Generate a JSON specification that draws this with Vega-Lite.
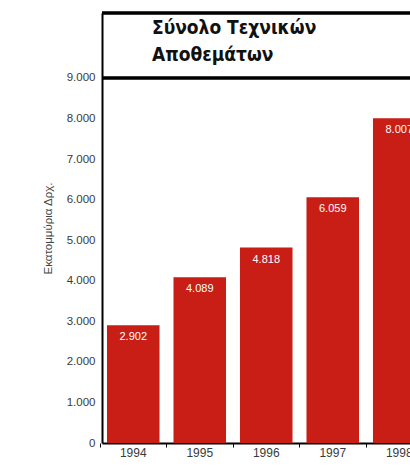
{
  "$schema": "https://vega.github.io/schema/vega-lite/v6.json",
  "width": 308,
  "height": 430,
  "autosize": {"type": "none"},
  "padding": {"left": 102, "top": 13, "right": 0, "bottom": 30},
  "background": "white",
  "config": {
    "view": {"stroke": null},
    "locale": {"number": {"decimal": ",", "thousands": ".", "grouping": [3], "currency": ["", " €"]}}
  },
  "title": {
    "text": ["Σύνολο Τεχνικών", "Αποθεμάτων"],
    "anchor": "start",
    "orient": "top",
    "frame": "group",
    "font": "DejaVu Sans Condensed",
    "fontSize": 19,
    "fontWeight": "bold",
    "color": "#111111",
    "lineHeight": 27,
    "baseline": "alphabetic",
    "offset": 0,
    "dx": 50,
    "dy": 68
  },
  "data": {
    "values": [
      {"year": "1994", "value": 2902},
      {"year": "1995", "value": 4089},
      {"year": "1996", "value": 4818},
      {"year": "1997", "value": 6059},
      {"year": "1998", "value": 8007}
    ]
  },
  "resolve": {"axis": {"x": "independent"}},
  "layer": [
    {
      "mark": {"type": "bar", "color": "#c81e16", "clip": true},
      "encoding": {
        "x": {
          "field": "year",
          "type": "ordinal",
          "scale": {"range": [0, 328.5], "paddingInner": 0.21, "paddingOuter": 0.075},
          "axis": {
            "orient": "bottom",
            "title": null,
            "ticks": false,
            "labelAngle": 0,
            "labelFont": "Liberation Sans",
            "labelFontSize": 12,
            "labelColor": "#3a3a3a",
            "labelPadding": 4,
            "domainColor": "#000000",
            "domainWidth": 2
          }
        },
        "y": {
          "field": "value",
          "type": "quantitative",
          "scale": {"domain": [0, 10600], "nice": false},
          "axis": {
            "values": [0, 1000, 2000, 3000, 4000, 5000, 6000, 7000, 8000, 9000],
            "format": ",d",
            "grid": false,
            "ticks": false,
            "labelPadding": 7,
            "labelFont": "Liberation Sans",
            "labelFontSize": 11.5,
            "labelColor": "#3a3a3a",
            "domainColor": "#000000",
            "domainWidth": 2,
            "title": "Εκατομμύρια Δρχ.",
            "titleFont": "Liberation Sans",
            "titleFontSize": 11.5,
            "titleFontWeight": "normal",
            "titleColor": "#444444",
            "titleX": -49,
            "titleAlign": "center",
            "titleBaseline": "bottom"
          }
        }
      }
    },
    {
      "mark": {"type": "text", "color": "white", "baseline": "top", "dy": 6, "font": "Liberation Sans", "fontSize": 11, "clip": true},
      "encoding": {
        "x": {
          "field": "year",
          "type": "ordinal",
          "axis": {
            "orient": "bottom",
            "title": null,
            "labels": false,
            "domain": false,
            "ticks": true,
            "tickColor": "#000000",
            "tickSize": 4,
            "tickWidth": 1,
            "bandPosition": 0,
            "tickOffset": -7
          }
        },
        "y": {"field": "value", "type": "quantitative"},
        "text": {"field": "value", "type": "quantitative", "format": ",d"}
      }
    },
    {
      "mark": {"type": "rule", "color": "#000000", "strokeWidth": 2.5},
      "encoding": {"y": {"datum": 9000}}
    },
    {
      "mark": {"type": "rule", "color": "#000000", "strokeWidth": 2.5},
      "encoding": {"y": {"datum": 10600}}
    }
  ]
}
